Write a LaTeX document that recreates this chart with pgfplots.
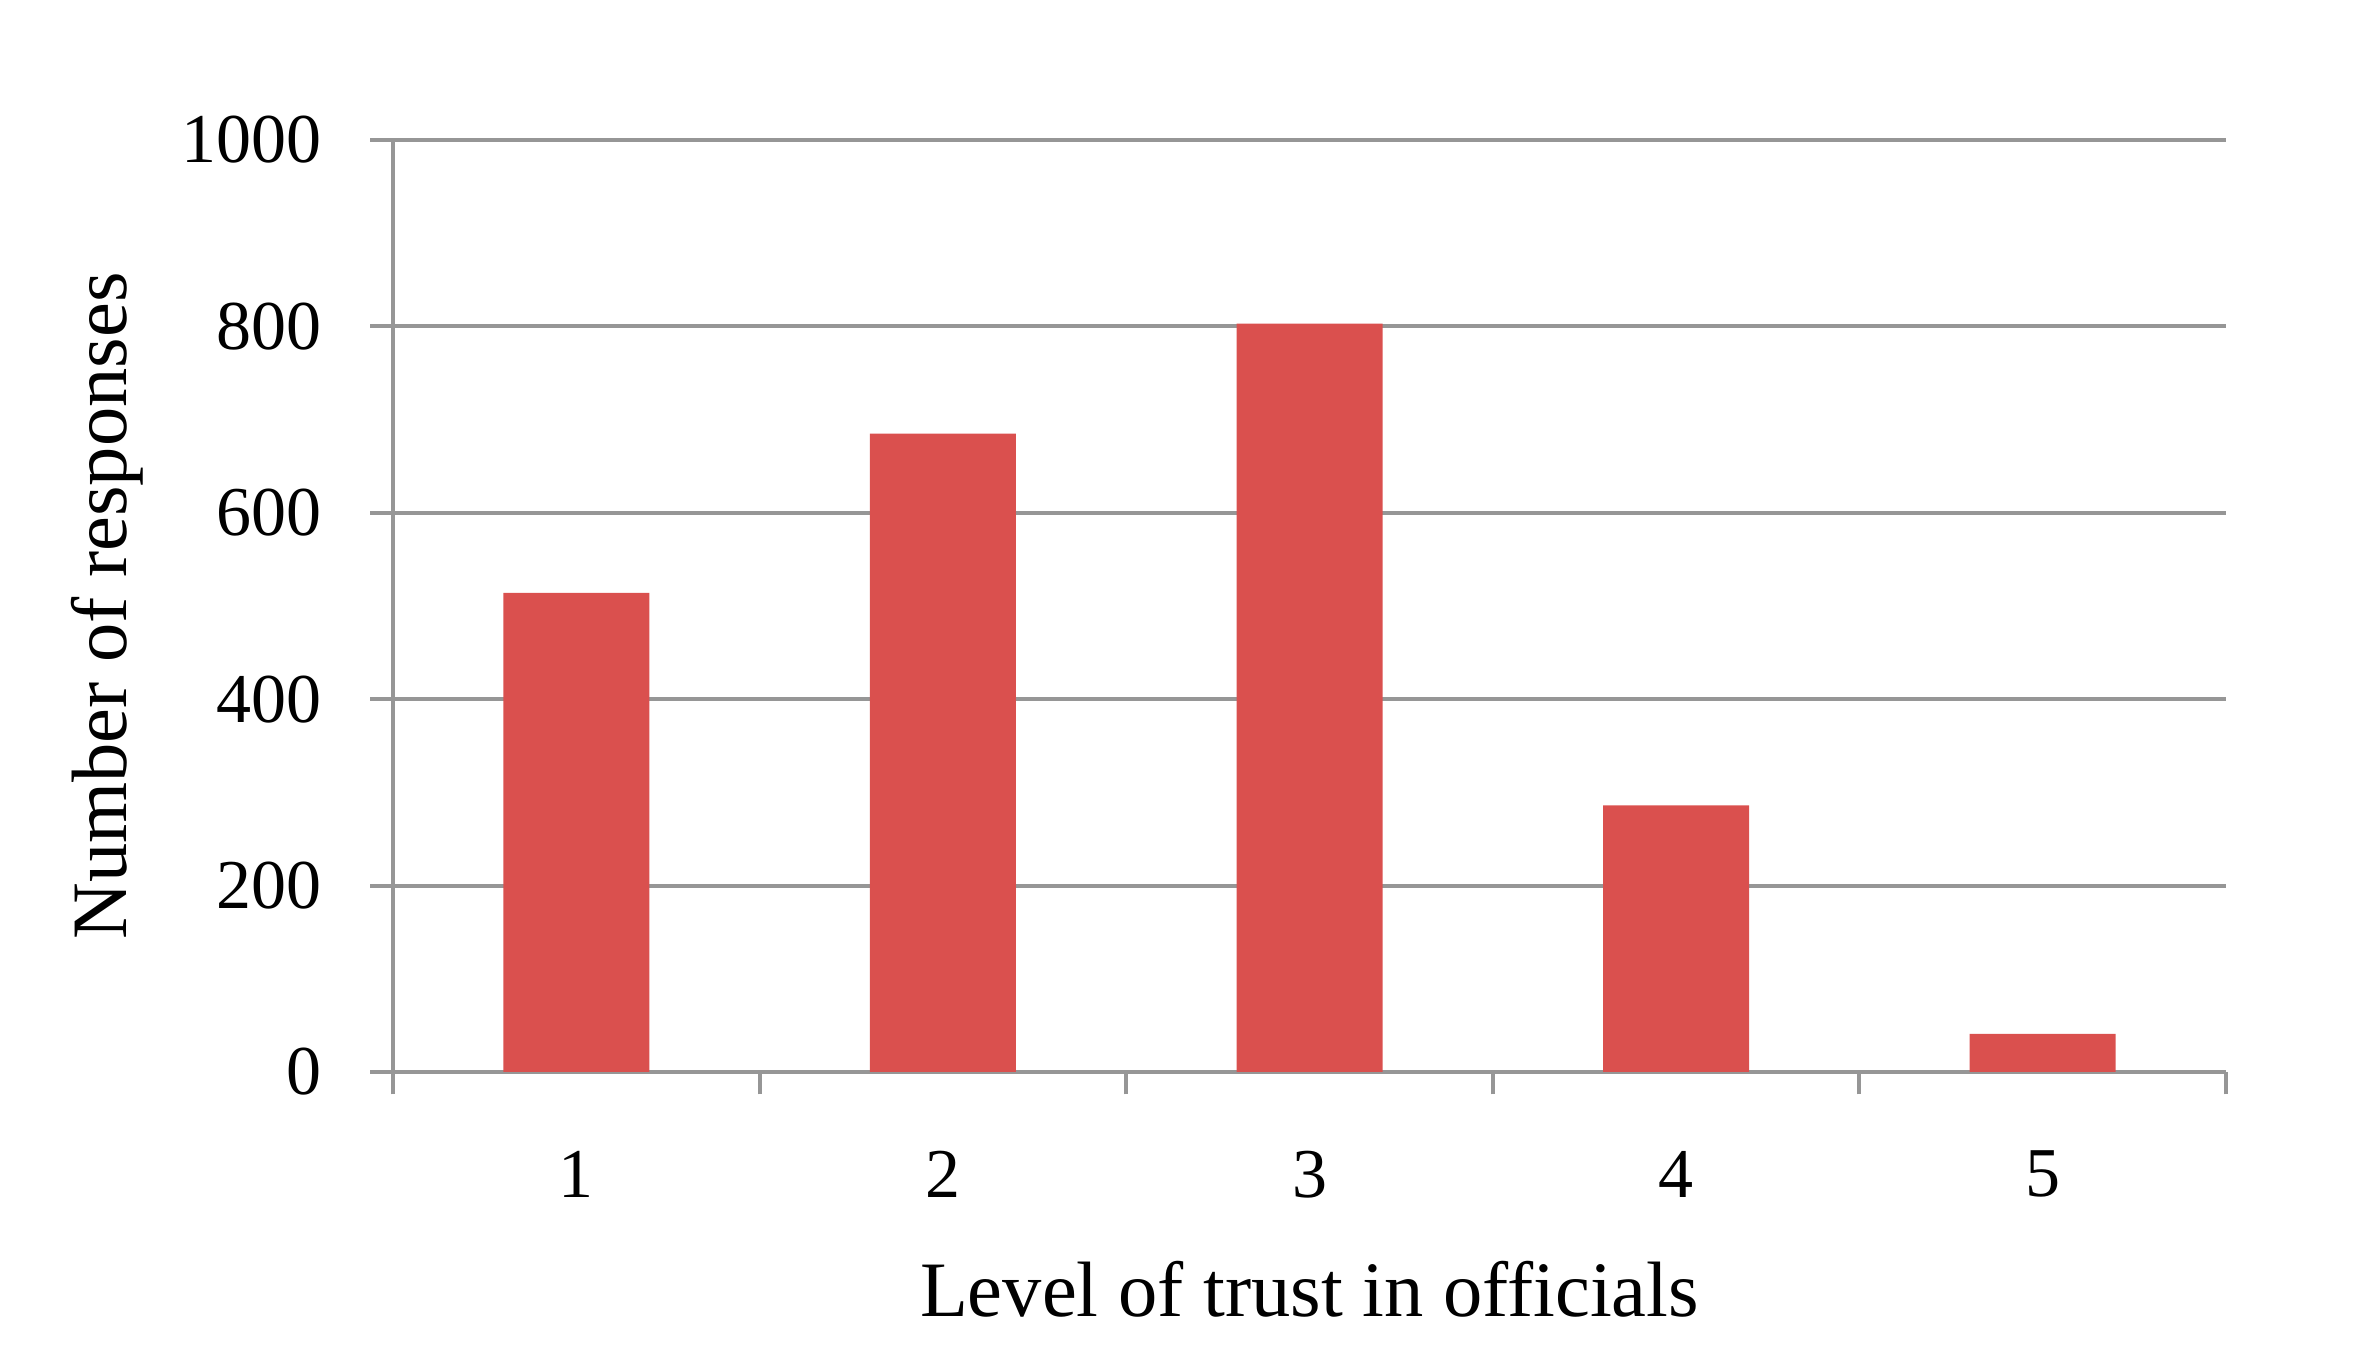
\documentclass[border=0pt]{standalone}
\usepackage{fontspec}
\setmainfont{Liberation Serif}
\usepackage{pgfplots}
\pgfplotsset{compat=1.18}
\definecolor{barred}{RGB}{218,80,78}
\definecolor{gridgray}{RGB}{150,150,150}
\begin{document}
\fontsize{13.5}{16}\selectfont
\begin{tikzpicture}
\path[use as bounding box] (-78.6pt,-58.2pt) rectangle (392.4pt,214.4pt);
\begin{axis}[
  at={(0,0)}, anchor=south west,
  scale only axis,
  width=366.6pt, height=186.4pt,
  xmin=0.5, xmax=5.5, ymin=0, ymax=1000,
  xtick={1,2,3,4,5},
  minor xtick={0.5,1.5,2.5,3.5,4.5,5.5},
  ytick={0,200,400,600,800,1000},
  major x tick style={draw=none},
  tick align=outside,
  tick pos=left,
  major tick length=4.5pt,
  minor tick length=4.5pt,
  every tick/.style={gridgray, line width=0.8pt},
  axis x line*=bottom, axis y line*=left,
  axis line style={-, gridgray, line width=0.8pt},
  ymajorgrids,
  grid style={gridgray, line width=0.8pt},
  /pgf/number format/assume math mode=true,
  /pgf/number format/1000 sep={},
  ticklabel style={font=\fontsize{14}{16}\selectfont},
  xticklabel style={yshift=-6.6pt},
  yticklabel style={xshift=-5pt},
  xlabel={Level of trust in officials},
  ylabel={Number of responses},
  label style={font=\fontsize{15.7}{18}\selectfont},
  xlabel style={yshift=-3.4pt},
  ylabel style={yshift=-1.5pt},
  ybar, bar width=29.2pt,
]
\addplot[fill=barred, draw=none] coordinates {(1,514) (2,685) (3,803) (4,286) (5,41)};
\end{axis}
\end{tikzpicture}
\end{document}
